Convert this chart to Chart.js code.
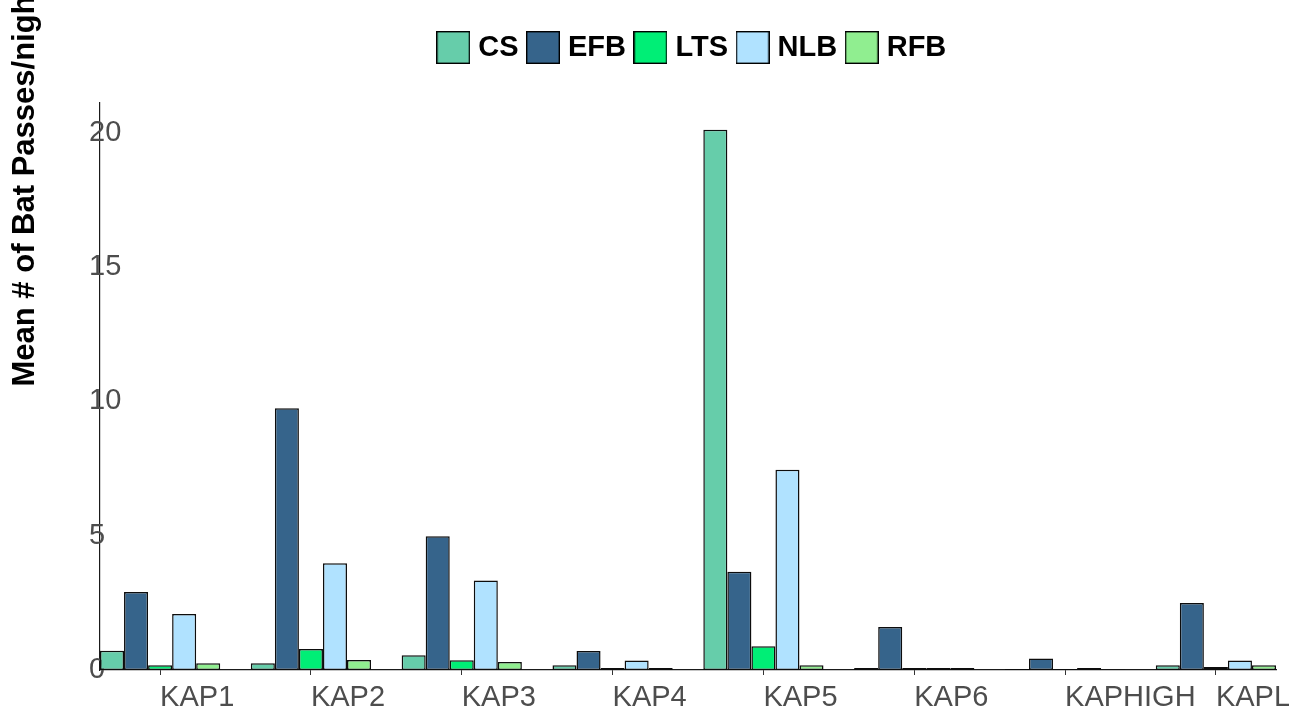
<!DOCTYPE html>
<html>
<head>
<meta charset="utf-8">
<title>Mean # of Bat Passes/night by site</title>
<script src="https://cdn.jsdelivr.net/npm/chart.js@4.4.1/dist/chart.umd.min.js"></script>
<style>
  html, body { margin: 0; padding: 0; background: #ffffff; overflow: hidden; }
  #wrap { width: 1289px; height: 713px; }
</style>
</head>
<body>
<div id="wrap"><canvas id="chart" width="1289" height="713"></canvas></div>
<script>
// Sites (x categories) and species groups
const sites = ['KAP1', 'KAP2', 'KAP3', 'KAP4', 'KAP5', 'KAP6', 'KAPHIGH', 'KAPLOW'];
const species = ['CS', 'EFB', 'LTS', 'NLB', 'RFB'];

// Mean number of bat passes per night, one array per species (in site order)
const csPasses  = [0.72, 0.25, 0.55, 0.18, 20.10, 0.07, 0.04, 0.18];
const efbPasses = [2.90, 9.74, 4.98, 0.71, 3.66, 1.60, 0.43, 2.49];
const ltsPasses = [0.18, 0.78, 0.36, 0.07, 0.88, 0.07, 0.04, 0.11];
const nlbPasses = [2.08, 3.97, 3.33, 0.35, 7.45, 0.07, 0.07, 0.35];
const rfbPasses = [0.25, 0.37, 0.30, 0.07, 0.18, 0.07, 0.02, 0.18];

// Value axis
const yTickValues = [0, 5, 10, 15, 20];
const yAxisMax = 21.1;
const yTitle = 'Mean # of Bat Passes/night';

// Fill colours per species
const speciesColors = ['#66CDAA', '#36648B', '#00EE76', '#B0E2FF', '#90EE90'];

const seriesValues = [csPasses, efbPasses, ltsPasses, nlbPasses, rfbPasses];
const GROUP_FRACTION = 0.797;

// Legend swatches: filled square with a dark outline
function makeSwatch(color) {
  const c = document.createElement('canvas');
  c.width = 34; c.height = 33;
  const g = c.getContext('2d');
  g.fillStyle = color;
  g.fillRect(0, 0, 34, 33);
  g.strokeStyle = '#000000';
  g.lineWidth = 1.4;
  g.strokeRect(0.7, 0.7, 32.6, 31.6);
  return c;
}
const swatches = speciesColors.map(makeSwatch);

const datasets = species.map((name, k) => ({
  label: name,
  data: seriesValues[k].map((v, i) => ({ x: i, y: v })),
  backgroundColor: speciesColors[k],
  borderColor: '#0d0d0d',
  borderWidth: 1.5,
  borderSkipped: false,
  categoryPercentage: GROUP_FRACTION,
  barPercentage: 1.0
}));

// Rotated y-axis title, starting at the vertical middle of the plot
const yTitlePlugin = {
  id: 'yTitle',
  afterDraw(chart) {
    const { ctx, chartArea } = chart;
    ctx.save();
    ctx.font = 'bold 31px "Liberation Sans", Arial, sans-serif';
    ctx.fillStyle = '#000000';
    ctx.textAlign = 'left';
    ctx.textBaseline = 'alphabetic';
    ctx.translate(34, (chartArea.top + chartArea.bottom) / 2);
    ctx.rotate(-Math.PI / 2);
    ctx.fillText(yTitle, 0, 0);
    ctx.restore();
  }
};

// Extra room between legend and plot
const legendSpacer = {
  id: 'legendSpacer',
  beforeInit(chart) {
    const fit = chart.legend.fit;
    chart.legend.fit = function () {
      fit.call(this);
      this.height += 31;
    };
  }
};

const tickFont = { family: '"Liberation Sans", Arial, sans-serif', size: 29 };

new Chart(document.getElementById('chart'), {
  type: 'bar',
  data: { datasets },
  plugins: [legendSpacer, yTitlePlugin],
  options: {
    responsive: false,
    animation: false,
    events: [],
    layout: { padding: { left: 100, right: 0, top: 19, bottom: 0 } },
    plugins: {
      tooltip: { enabled: false },
      legend: {
        position: 'top',
        align: 'center',
        labels: {
          usePointStyle: true,
          pointStyleWidth: 21,
          padding: 14,
          color: '#000000',
          font: { family: '"Liberation Sans", Arial, sans-serif', size: 29, weight: 'bold' },
          generateLabels(chart) {
            const items = Chart.defaults.plugins.legend.labels.generateLabels(chart);
            items.forEach((it, i) => { it.pointStyle = swatches[i]; });
            return items;
          }
        }
      }
    },
    scales: {
      x: {
        type: 'linear',
        offset: false,
        min: -GROUP_FRACTION / 2,
        max: sites.length - 1 + GROUP_FRACTION / 2,
        afterBuildTicks(scale) {
          scale.ticks = sites.map((_, i) => ({ value: i }));
        },
        afterFit(scale) {
          scale.height = 43;
          scale.paddingLeft = 0;
          scale.paddingRight = 13;
        },
        grid: {
          display: true,
          offset: false,
          drawOnChartArea: false,
          drawTicks: true,
          tickLength: 5,
          color: '#333333',
          lineWidth: 1
        },
        border: { display: true, color: '#1a1a1a', width: 1.2 },
        ticks: {
          align: 'start',
          padding: 6,
          autoSkip: false,
          maxRotation: 0,
          color: '#4D4D4D',
          font: tickFont,
          callback: (value) => sites[value] ?? ''
        }
      },
      y: {
        min: 0,
        max: yAxisMax,
        afterBuildTicks(scale) {
          scale.ticks = yTickValues.map(v => ({ value: v }));
        },
        afterFit(scale) {
          scale.width = 0;
        },
        grid: { display: false, drawTicks: false },
        border: { display: true, color: '#1a1a1a', width: 1.2 },
        ticks: {
          mirror: true,
          crossAlign: 'near',
          padding: -11,
          color: '#4D4D4D',
          font: tickFont,
          callback: (value) => String(value)
        }
      }
    }
  }
});
</script>
</body>
</html>
